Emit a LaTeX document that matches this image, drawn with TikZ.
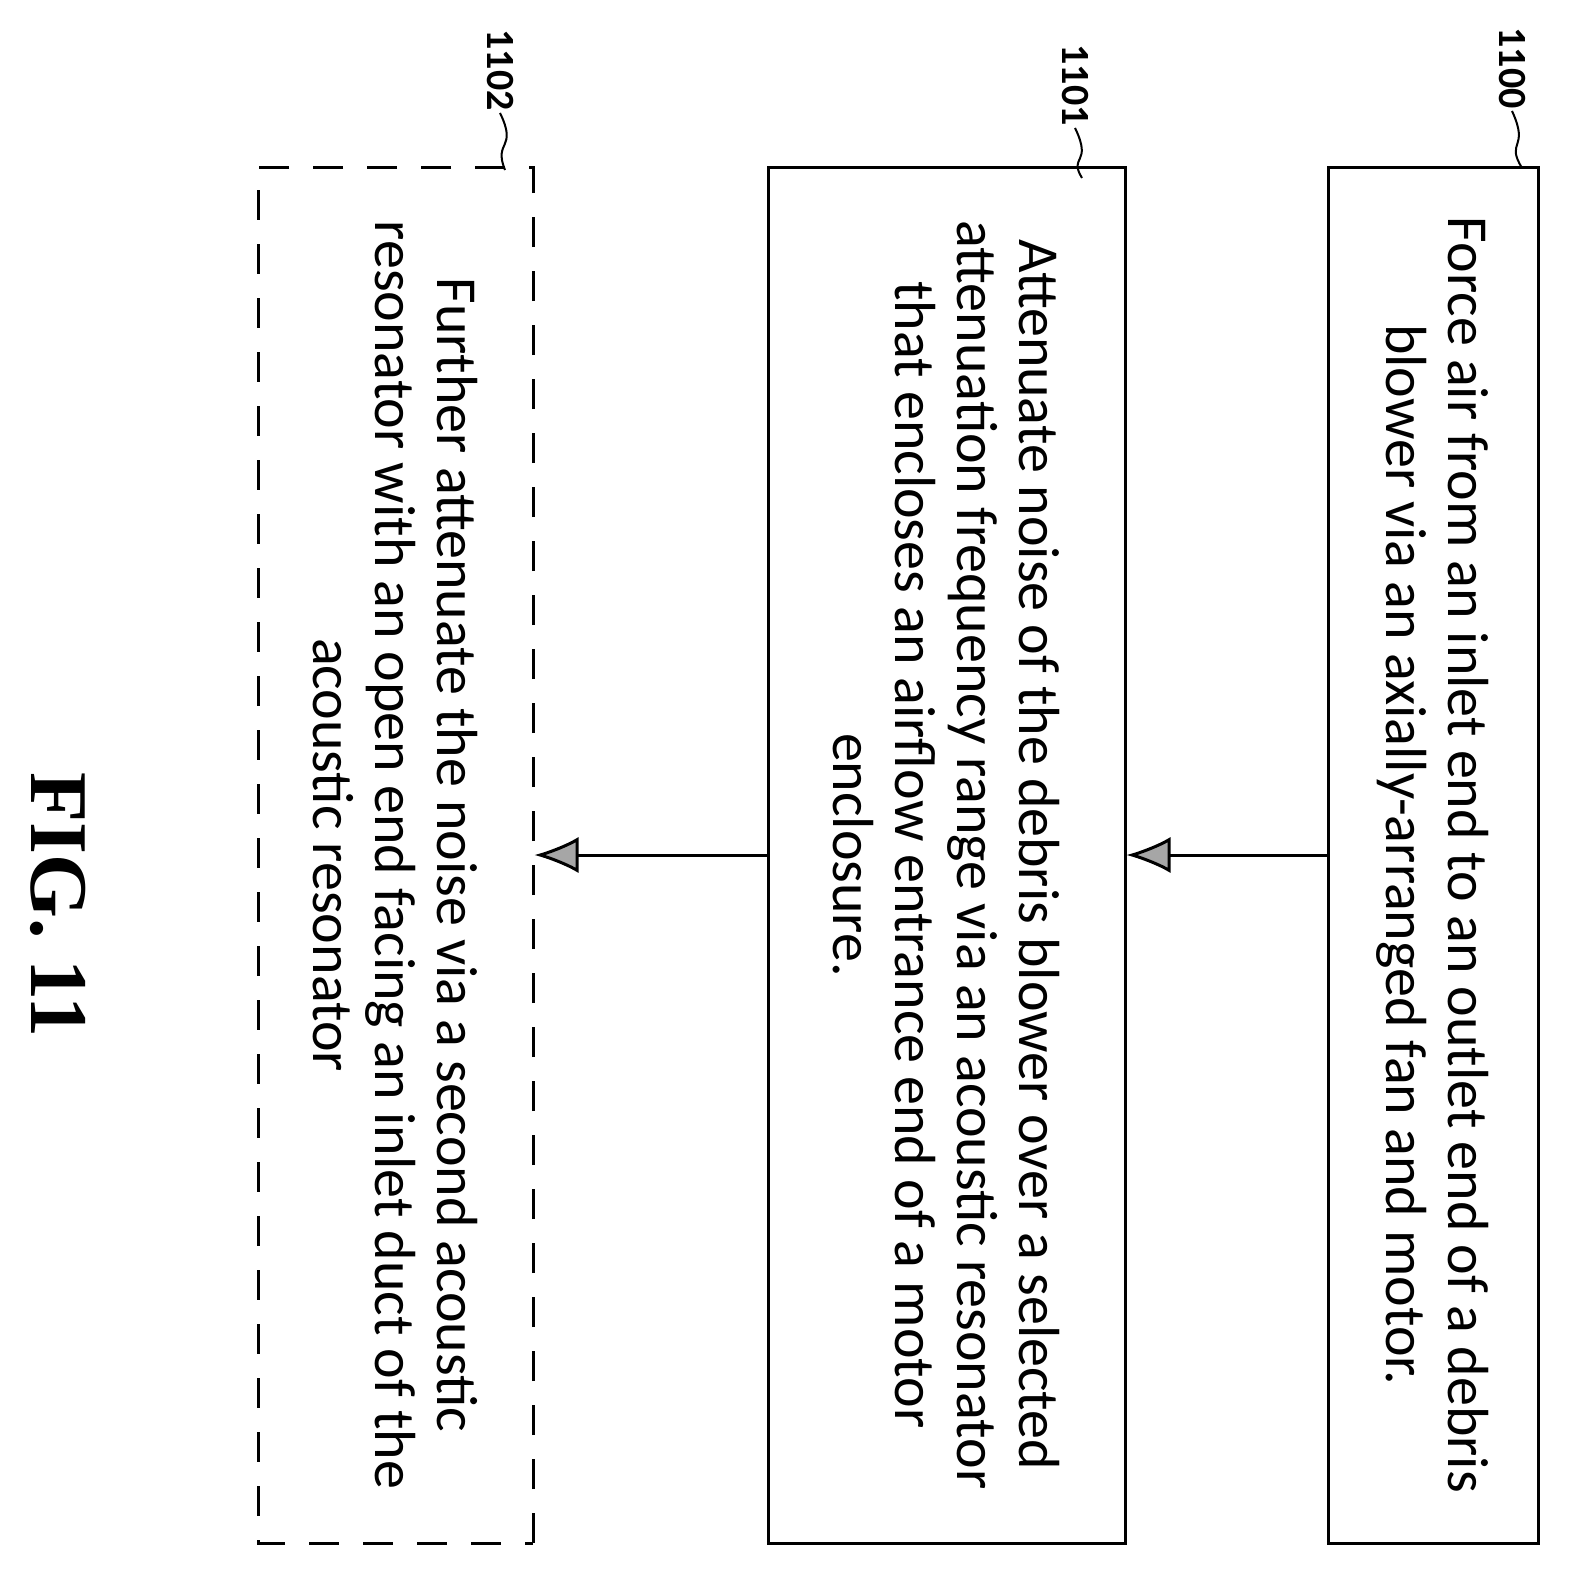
\documentclass[tikz,border=0pt]{standalone}
\usepackage{fontspec}
\setmainfont{Carlito}
\usetikzlibrary{arrows.meta,positioning}
\tikzset{
  procbox/.style={draw, line width=1.5pt, rotate=-90, minimum width=688pt, align=center,
    font=\fontsize{29}{31}\selectfont, inner sep=0pt},
  optbox/.style={procbox, dash pattern=on 15pt off 12pt},
  flow/.style={line width=1.5pt, -{Latex[length=22pt,width=18pt,fill=gray!70]}},
  ref/.style={rotate=-90, font=\fontsize{20}{20}\selectfont\bfseries, inner sep=1pt}
}
\begin{document}
\begin{tikzpicture}[x=0.5pt,y=-0.5pt]
  \useasboundingbox (0,0) rectangle (1570,1575);

  % process steps
  \node[procbox, minimum height=105pt] (s0) at (1433,855)
    {Force air from an inlet end to an outlet end of a debris\\
     blower via an axially-arranged fan and motor.};
  \node[procbox, minimum height=178.5pt] (s1) at (946.5,855)
    {Attenuate noise of the debris blower over a selected\\
     attenuation frequency range via an acoustic resonator\\
     that encloses an airflow entrance end of a motor\\
     enclosure.};
  \node[optbox, minimum height=137.5pt] (s2) at (395.5,855)
    {Further attenuate the noise via a second acoustic\\
     resonator with an open end facing an inlet duct of the\\
     acoustic resonator};

  \draw[flow] (s0.south) -- (s1.north);
  \draw[flow] (s1.south) -- (s2.north);

  % reference numerals
  \node[ref] (n0) at (1512,68) {1100};
  \node[ref] (n1) at (1075,85) {1101};
  \node[ref] (n2) at (500,70) {1102};
  \draw[line width=1pt] (n0.east) .. controls (1530,150) and (1505,140) .. (1522,168);
  \draw[line width=1pt] (n1.east) .. controls (1093,165) and (1068,155) .. (1082,178);
  \draw[line width=1pt] (n2.east) .. controls (518,150) and (493,140) .. (505,170);

  \node[rotate=-90, font=\fontsize{41}{41}\selectfont\bfseries] (fig) at (58,905)
    {\fontspec{Liberation Serif}FIG. 11};
\end{tikzpicture}
\end{document}
